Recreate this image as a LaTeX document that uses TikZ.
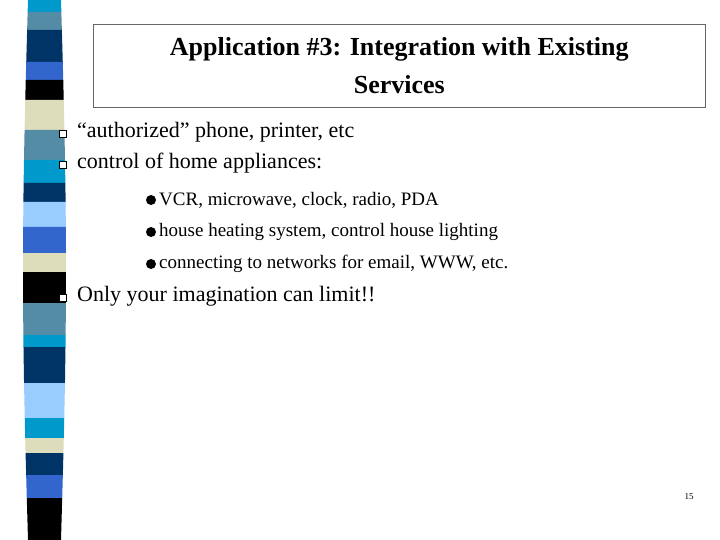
\documentclass[tikz,border=0pt]{standalone}
\usepackage{fontspec}
\setmainfont{Liberation Serif}
\definecolor{cy}{RGB}{0,153,204}
\definecolor{st}{RGB}{85,140,165}
\definecolor{nv}{RGB}{0,51,102}
\definecolor{bl}{RGB}{51,102,204}
\definecolor{bk}{RGB}{0,0,0}
\definecolor{be}{RGB}{221,221,187}
\definecolor{lb}{RGB}{153,204,255}
\tikzset{qb/.style={draw=black,line width=0.8pt,fill=white,minimum size=7pt,inner sep=0pt},
 cb/.style={circle,fill=black,minimum size=10pt,inner sep=0pt},
 txt/.style={anchor=west,inner sep=0pt,font=\fontsize{22}{26}\selectfont},
 sub/.style={anchor=west,inner sep=0pt,font=\fontsize{19}{22}\selectfont}}
\begin{document}
\begin{tikzpicture}[x=1pt,y=-1pt]
\useasboundingbox (0,0) rectangle (720,540);
\fill[white] (0,0) rectangle (720,540);
\foreach \a/\b/\c in {0/12/cy,12/30/st,30/62/nv,62/80/bl,80/100/bk,100/130/be,130/160/st,160/183/cy,183/202/nv,202/227/lb,227/253/bl,253/272/be,272/303/bk,303/335/st,335/347/cy,347/383/nv,383/418/lb,418/438/cy,438/453/be,453/475/nv,475/498/bl,498/540/bk}{
 \fill[\c] ({28-5*sin(\a/3)},\a) -- ({61+5*sin(\a/3)},\a) -- ({61+5*sin(\b/3)},\b) -- ({28-5*sin(\b/3)},\b) -- cycle;}
\node[draw=black!60,line width=0.6pt,minimum width=612pt,minimum height=83pt,anchor=north west,inner sep=0pt] (tb) at (93,24) {};
\node[align=center,font=\bfseries\fontsize{26}{38}\selectfont,inner sep=0pt] (title) at (tb.center) {Application \#3: Integration with Existing\\Services};
\node[qb] (q1) at (63,134) {}; \node[txt] (t1) at (77,132) {“authorized” phone, printer, etc};
\node[qb] (q2) at (63,165) {}; \node[txt] (t2) at (77,163) {control of home appliances:};
\node[cb] (c1) at (151,200) {}; \node[sub] (s1) at (159,200) {VCR, microwave, clock, radio, PDA};
\node[cb] (c2) at (151,232) {}; \node[sub] (s2) at (159,232) {house heating system, control house lighting};
\node[cb] (c3) at (151,264) {}; \node[sub] (s3) at (159,264) {connecting to networks for email, WWW, etc.};
\node[qb] (q3) at (63,298) {}; \node[txt] (t3) at (77,296) {Only your imagination can limit!!};
\node[font=\fontsize{9}{10}\selectfont,inner sep=0pt] (pn) at (689,497) {15};
\end{tikzpicture}
\end{document}
